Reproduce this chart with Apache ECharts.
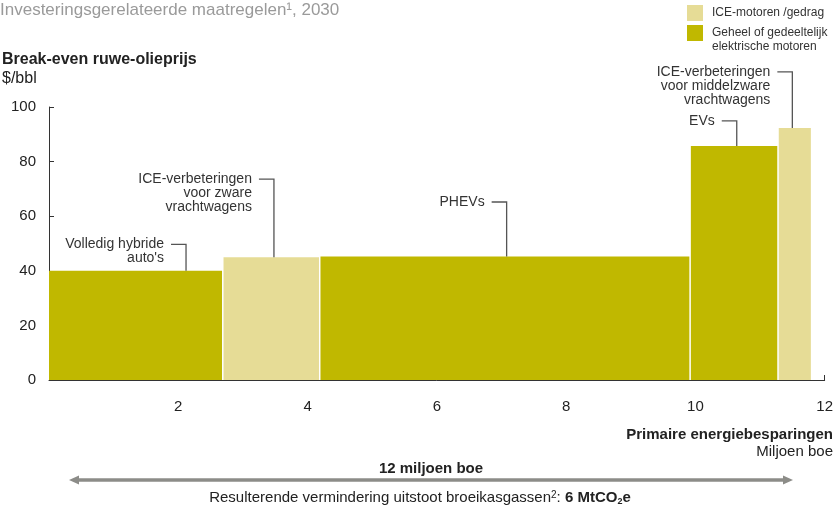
<!DOCTYPE html>
<html>
<head>
<meta charset="utf-8">
<script src="https://cdn.jsdelivr.net/npm/echarts@6/dist/echarts.min.js"></script>
<style>
  html, body { margin: 0; padding: 0; background: #fff; }
  #chart { width: 836px; height: 507px; }
</style>
</head>
<body>
<div id="chart"></div>
<script>
// maatregelen, van links naar rechts op de curve
const measures = ["Volledig hybride auto's", 'ICE-verbeteringen voor zware vrachtwagens', 'PHEVs', 'EVs', 'ICE-verbeteringen voor middelzware vrachtwagens'];
// breedte van elke balk: primaire energiebesparing (miljoen boe)
const savings = [2.7, 1.5, 5.73, 1.36, 0.52];
// hoogte van elke balk: break-even ruwe-olieprijs ($/bbl)
const breakEven = [40, 45, 45.2, 85.7, 92.3];
// 0 = ICE-motoren/gedrag, 1 = geheel of gedeeltelijk elektrisch
const motorType = [1, 0, 1, 1, 0];
const typeNames = ['ICE-motoren /gedrag', 'Geheel of gedeeltelijk elektrische motoren'];

// labels bij de balken, met de plek van de verwijslijn (in aswaarden)
const noteLines = [['Volledig hybride', "auto's"], ['ICE-verbeteringen', 'voor zware', 'vrachtwagens'], ['PHEVs'], ['EVs'], ['ICE-verbeteringen', 'voor middelzware', 'vrachtwagens']];
const noteX = [2.12, 3.48, 7.08, 10.64, 11.5];
const noteY = [49.7, 73.6, 65.2, 94.9, 112.9];

const FONT = "'Liberation Sans', Arial, sans-serif";
const COLORS = ['#e6dc96', '#c0b800'];

// begin- en eindpunt van elke balk op de x-as
let cum = 0;
const bars = savings.map((w, i) => {
  const item = [cum, cum + w, breakEven[i], i];
  cum += w;
  return item;
});

function renderBar(params, api) {
  const topLeft = api.coord([api.value(0), api.value(2)]);
  const bottomRight = api.coord([api.value(1), 0]);
  return {
    type: 'rect',
    shape: {
      x: topLeft[0],
      y: topLeft[1],
      width: bottomRight[0] - topLeft[0] - 1.5,
      height: bottomRight[1] - topLeft[1]
    },
    style: { fill: api.visual('color') }
  };
}

function renderNote(params, api) {
  const i = api.value(3);
  const bend = api.coord([api.value(0), api.value(1)]);
  const foot = api.coord([api.value(0), api.value(2)]);
  return {
    type: 'group',
    children: [
      {
        type: 'polyline',
        shape: { points: [[bend[0] - 15, bend[1]], [bend[0], bend[1]], [foot[0], foot[1]]] },
        style: { stroke: '#555', lineWidth: 1.3, fill: null }
      },
      {
        type: 'text',
        x: bend[0] - 22,
        y: bend[1] - 7,
        style: {
          text: noteLines[i].join('\n'),
          align: 'right',
          verticalAlign: 'top',
          lineHeight: 14,
          fontSize: 14,
          fontFamily: FONT,
          fill: '#333'
        }
      }
    ]
  };
}

const chart = echarts.init(document.getElementById('chart'));

const option = {
  animation: false,
  grid: { left: 49, right: 11, top: 107, bottom: 127 },
  xAxis: {
    type: 'value',
    min: 0,
    max: 12,
    interval: 2,
    axisLine: { show: true, lineStyle: { color: '#333', width: 1 } },
    axisTick: { show: true, inside: true, length: 5, lineStyle: { color: '#333' } },
    axisLabel: { showMinLabel: false, margin: 19, fontSize: 15, fontFamily: FONT, color: '#222' },
    splitLine: { show: false }
  },
  yAxis: {
    type: 'value',
    min: 0,
    max: 100,
    interval: 20,
    axisLine: { show: true, lineStyle: { color: '#333', width: 1 } },
    axisTick: { show: true, inside: true, length: 5, lineStyle: { color: '#333' } },
    axisLabel: { margin: 13, fontSize: 15, fontFamily: FONT, color: '#222' },
    splitLine: { show: false }
  },
  series: [
    ...typeNames.map((name, t) => ({
      name: name,
      type: 'custom',
      renderItem: renderBar,
      itemStyle: { color: COLORS[t] },
      encode: { x: [0, 1], y: 2 },
      data: bars.filter(b => motorType[b[3]] === t)
    })),
    {
      name: 'labels',
      type: 'custom',
      clip: false,
      silent: true,
      renderItem: renderNote,
      encode: { x: 0, y: 1 },
      data: measures.map((m, i) => [noteX[i], noteY[i], breakEven[i], i]),
      z: 5
    }
  ],
  graphic: [
    {
      type: 'text', left: 0, top: 2,
      style: { text: 'Investeringsgerelateerde maatregelen¹, 2030', fontSize: 17, fontFamily: FONT, fill: '#9a9a9a' }
    },
    {
      type: 'text', left: 2, top: 52,
      style: { text: 'Break-even ruwe-olieprijs', fontSize: 16, fontWeight: 'bold', fontFamily: FONT, fill: '#222' }
    },
    {
      type: 'text', left: 2, top: 71,
      style: { text: '$/bbl', fontSize: 16, fontFamily: FONT, fill: '#222' }
    },
    // legenda
    { type: 'rect', left: 687, top: 5, shape: { width: 16, height: 16 }, style: { fill: COLORS[0] } },
    { type: 'rect', left: 687, top: 25, shape: { width: 16, height: 16 }, style: { fill: COLORS[1] } },
    {
      type: 'text', left: 712, top: 7,
      style: { text: typeNames[0], fontSize: 12, fontFamily: FONT, fill: '#333' }
    },
    {
      type: 'text', left: 712, top: 26,
      style: { text: 'Geheel of gedeeltelijk\nelektrische motoren', fontSize: 12, lineHeight: 14, fontFamily: FONT, fill: '#333' }
    },
    // as-titel onderaan
    {
      type: 'text', right: 3, top: 427,
      style: { text: 'Primaire energiebesparingen', fontSize: 15, fontWeight: 'bold', fontFamily: FONT, fill: '#222' }
    },
    {
      type: 'text', right: 3, top: 444,
      style: { text: 'Miljoen boe', fontSize: 15, fontFamily: FONT, fill: '#222' }
    },
    {
      type: 'text', x: 431, y: 469,
      style: { text: '12 miljoen boe', fontSize: 15, fontWeight: 'bold', fontFamily: FONT, fill: '#222', align: 'center', verticalAlign: 'middle' }
    },
    // dubbele pijl
    {
      type: 'group',
      children: [
        { type: 'line', shape: { x1: 76, y1: 480, x2: 786, y2: 480 }, style: { stroke: '#8c8c88', lineWidth: 3.5 } },
        { type: 'polygon', shape: { points: [[69, 480], [79, 475.5], [79, 484.5]] }, style: { fill: '#8c8c88' } },
        { type: 'polygon', shape: { points: [[793, 480], [783, 475.5], [783, 484.5]] }, style: { fill: '#8c8c88' } }
      ]
    },
    {
      type: 'text', x: 420, y: 498,
      style: {
        text: '{r|Resulterende vermindering uitstoot broeikasgassen}{sup|2}{r|: }{b|6 MtCO}{sub|2}{b|e}',
        align: 'center',
        verticalAlign: 'middle',
        rich: {
          r: { fontSize: 15, fontFamily: FONT, fill: '#222' },
          b: { fontSize: 15, fontWeight: 'bold', fontFamily: FONT, fill: '#222' },
          sup: { fontSize: 10, fontFamily: FONT, fill: '#222', verticalAlign: 'top', padding: [0, 0, 6, 0] },
          sub: { fontSize: 9, fontWeight: 'bold', fontFamily: FONT, fill: '#222', verticalAlign: 'bottom', padding: [6, 0, 0, 0] }
        }
      }
    }
  ]
};

chart.setOption(option);
window.addEventListener('resize', () => chart.resize());
</script>
</body>
</html>
